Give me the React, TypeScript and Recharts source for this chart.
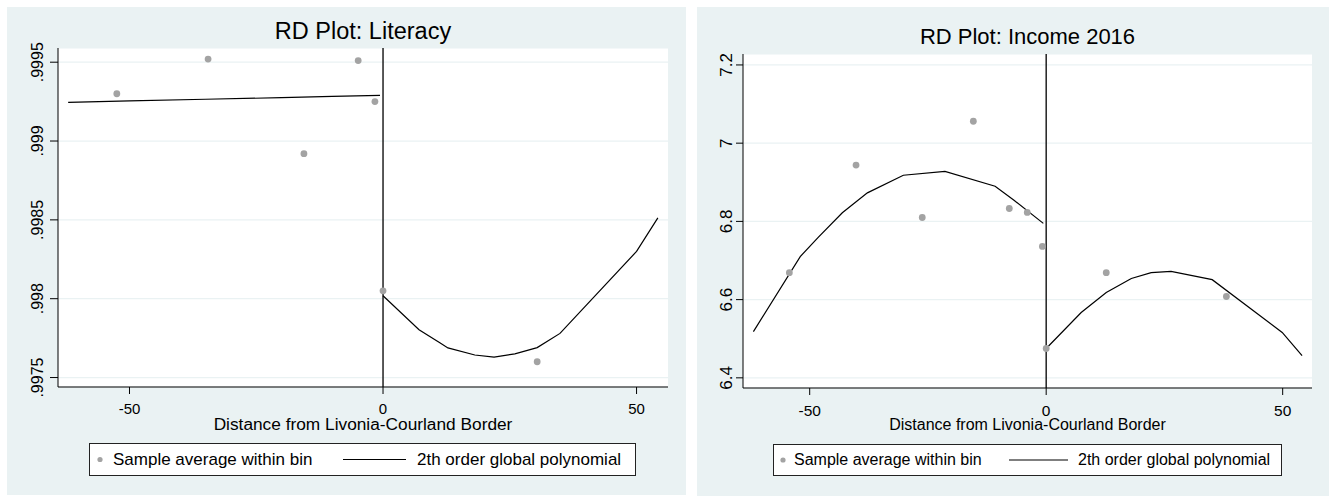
import React from 'react';
import { ComposedChart, Scatter, Line, XAxis, YAxis, CartesianGrid, ReferenceLine } from 'recharts';

const FONT = '"Liberation Sans", Arial, Helvetica, sans-serif';
const BG = '#eaf2f3';
const DOT = '#a3a3a3';

// shared x axis (distance from border)
const xDomain = [-64.1, 56.2];
const xTicks = [-50, 0, 50];
const xLabel = 'Distance from Livonia-Courland Border';
const legendLabels = ['Sample average within bin', '2th order global polynomial'];

// Literacy
const litTitle = 'RD Plot: Literacy';
const litBinX = [-52.5, -34.5, -15.6, -4.9, -1.6, 0.0, 30.4];
const litBinY = [0.9993, 0.99952, 0.99892, 0.99951, 0.99925, 0.99805, 0.9976];
const litLeftX = [-62.1, -50, -35, -20, -10, -0.6];
const litLeftY = [0.999245, 0.999255, 0.999265, 0.999275, 0.999283, 0.99929];
const litRightX = [0, 7.1, 11.2, 12.8, 18.1, 21.9, 26, 30.4, 34.9, 50, 54.2];
const litRightY = [0.998019, 0.997803, 0.99772, 0.997688, 0.997643, 0.99763, 0.99765, 0.99769, 0.99778, 0.9983, 0.998513];
const litYTicks = [0.9975, 0.998, 0.9985, 0.999, 0.9995];
const litYLabels = ['.9975', '.998', '.9985', '.999', '.9995'];
const litYDomain = [0.99744, 0.99959];

// Income 2016
const incTitle = 'RD Plot: Income 2016';
const incBinX = [-54.3, -40.2, -26.2, -15.4, -7.8, -4.0, -0.8, 0.0, 12.7, 38.1];
const incBinY = [6.669, 6.944, 6.81, 7.056, 6.833, 6.823, 6.736, 6.475, 6.669, 6.608];
const incLeftX = [-61.9, -52, -48.2, -43.1, -37.8, -30.2, -21.4, -10.8, -6.8, -0.6];
const incLeftY = [6.518, 6.71, 6.759, 6.822, 6.873, 6.918, 6.928, 6.89, 6.854, 6.795];
const incRightX = [0, 7.4, 12.7, 18, 22.2, 26.4, 35.1, 49.9, 54.1];
const incRightY = [6.475, 6.567, 6.618, 6.654, 6.669, 6.672, 6.651, 6.516, 6.457];
const incYTicks = [6.4, 6.6, 6.8, 7, 7.2];
const incYLabels = ['6.4', '6.6', '6.8', '7', '7.2'];
const incYDomain = [6.374, 7.228];

const zip = (xs: number[], ys: number[]) => xs.map((x, i) => ({ x, y: ys[i] }));

const RotatedTick = (props: any) => {
  const { x, y, payload, fontSize, ticks, labels } = props;
  const i = ticks.indexOf(payload.value);
  const label = i >= 0 ? labels[i] : String(payload.value);
  return (
    <text x={x} y={y} transform={`rotate(-90 ${x} ${y})`} textAnchor="middle"
      fontSize={fontSize} fontFamily={FONT} fill="#000">
      {label}
    </text>
  );
};

interface PanelProps {
  pos: { left: number; top: number; width: number; height: number };
  title: string;
  titleSize: number;
  titleTop: number;
  bins: { x: number; y: number }[];
  fitLeft: { x: number; y: number }[];
  fitRight: { x: number; y: number }[];
  yDomain: number[];
  yTicks: number[];
  yLabels: string[];
  margin: { top: number; right: number; left: number; bottom: number };
  yWidth: number;
  xHeight: number;
  yTickMargin: number;
  xTickMargin: number;
  yTickSize: number;
  tickFont: number;
  yTickFont: number;
  labelFont: number;
  legend: { left: number; top: number; width: number; height: number; dot: number; text1: number; lineX1: number; lineX2: number; text2: number; font: number };
}

const Panel: React.FC<PanelProps> = (p) => {
  const plotLeft = p.margin.left + p.yWidth;
  const plotRight = p.pos.width - p.margin.right;
  const center = (plotLeft + plotRight) / 2;
  const lg = p.legend;
  return (
    <div style={{ position: 'absolute', ...p.pos, background: BG, fontFamily: FONT }}>
      <div style={{ position: 'absolute', left: center - 250, width: 500, top: p.titleTop, textAlign: 'center',
        fontSize: p.titleSize, lineHeight: `${p.titleSize}px`, color: '#000' }}>
        {p.title}
      </div>
      <ComposedChart width={p.pos.width} height={p.pos.height} margin={p.margin}>
        <CartesianGrid vertical={false} stroke={BG} strokeWidth={1.2} fill="#fff" />
        <XAxis type="number" dataKey="x" domain={xDomain} ticks={xTicks} allowDataOverflow
          height={p.xHeight} tickSize={7} tickMargin={p.xTickMargin}
          stroke="#000" tick={{ fill: '#000', fontSize: p.tickFont, fontFamily: FONT }}
          label={{ value: xLabel, position: 'insideBottom', offset: 1, fill: '#000', fontSize: p.labelFont, fontFamily: FONT }} />
        <YAxis type="number" dataKey="y" domain={p.yDomain} ticks={p.yTicks} allowDataOverflow
          width={p.yWidth} tickSize={p.yTickSize} tickMargin={p.yTickMargin} stroke="#000"
          tick={(t: any) => <RotatedTick {...t} fontSize={p.yTickFont} ticks={p.yTicks} labels={p.yLabels} />} />
        <ReferenceLine x={0} stroke="#111" strokeWidth={1.4} />
        <Line data={p.fitLeft} dataKey="y" type="linear" stroke="#000" strokeWidth={1.2} dot={false} isAnimationActive={false} />
        <Line data={p.fitRight} dataKey="y" type="linear" stroke="#000" strokeWidth={1.2} dot={false} isAnimationActive={false} />
        <Scatter data={p.bins} dataKey="y" isAnimationActive={false}
          shape={(s: any) => <circle cx={s.cx} cy={s.cy} r={3.4} fill={DOT} />} />
      </ComposedChart>
      <div style={{ position: 'absolute', left: lg.left, top: lg.top, width: lg.width, height: lg.height,
        border: '1px solid #222', background: '#fff', boxSizing: 'border-box', fontSize: lg.font, color: '#000' }}>
        <svg width={lg.width - 2} height={lg.height - 2} style={{ position: 'absolute', left: 0, top: 0 }}>
          <circle cx={lg.dot} cy={(lg.height - 2) / 2} r={2.6} fill={DOT} />
          <line x1={lg.lineX1} x2={lg.lineX2} y1={(lg.height - 2) / 2} y2={(lg.height - 2) / 2} stroke="#000" strokeWidth={1.2} />
        </svg>
        <span style={{ position: 'absolute', left: lg.text1, top: 0, lineHeight: `${lg.height - 2}px`, whiteSpace: 'nowrap' }}>{legendLabels[0]}</span>
        <span style={{ position: 'absolute', left: lg.text2, top: 0, lineHeight: `${lg.height - 2}px`, whiteSpace: 'nowrap' }}>{legendLabels[1]}</span>
      </div>
    </div>
  );
};

export default function App() {
  return (
    <div style={{ position: 'absolute', left: 0, top: 0, width: 1334, height: 496, background: '#fff' }}>
      <Panel
        pos={{ left: 7, top: 7, width: 679, height: 488 }}
        title={litTitle} titleSize={23.5} titleTop={13}
        bins={zip(litBinX, litBinY)} fitLeft={zip(litLeftX, litLeftY)} fitRight={zip(litRightX, litRightY)}
        yDomain={litYDomain} yTicks={litYTicks} yLabels={litYLabels}
        margin={{ top: 41, right: 18, left: 0, bottom: 64 }} yWidth={51} xHeight={44}
        yTickMargin={7} xTickMargin={9} yTickSize={8} tickFont={15} yTickFont={16} labelFont={17.3}
        legend={{ left: 82, top: 436, width: 547, height: 33, dot: 10, text1: 23, lineX1: 253, lineX2: 316, text2: 327, font: 17 }}
      />
      <Panel
        pos={{ left: 697, top: 7, width: 632, height: 489 }}
        title={incTitle} titleSize={22} titleTop={19.4}
        bins={zip(incBinX, incBinY)} fitLeft={zip(incLeftX, incLeftY)} fitRight={zip(incRightX, incRightY)}
        yDomain={incYDomain} yTicks={incYTicks} yLabels={incYLabels}
        margin={{ top: 47, right: 17, left: 0, bottom: 65 }} yWidth={46} xHeight={43}
        yTickMargin={4} xTickMargin={10} yTickSize={7} tickFont={15.5} yTickFont={17} labelFont={16}
        legend={{ left: 76, top: 437, width: 509, height: 32, dot: 9, text1: 20, lineX1: 235, lineX2: 294, text2: 304, font: 16 }}
      />
    </div>
  );
}
